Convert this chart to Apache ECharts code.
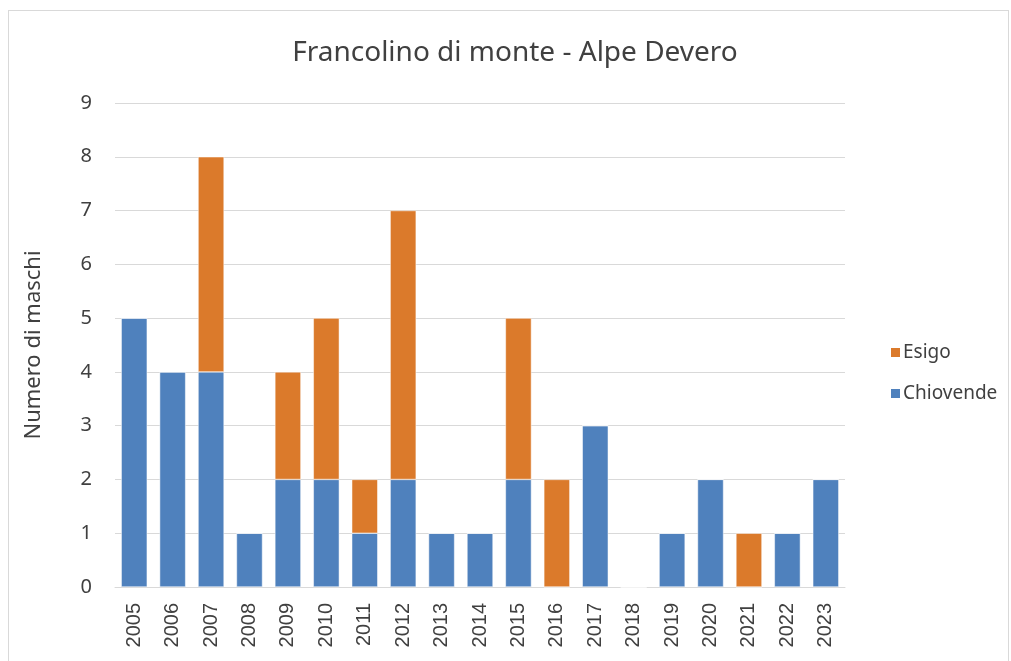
<!DOCTYPE html>
<html>
<head>
<meta charset="utf-8">
<script src="https://cdn.jsdelivr.net/npm/echarts@6/dist/echarts.min.js"></script>
<style>
  html, body { margin: 0; padding: 0; background: #fff; }
  #chart { width: 1011px; height: 661px; }
  #frame { position: absolute; left: 8px; top: 10px; width: 999px; height: 700px;
           border: 1px solid #d9d9d9; pointer-events: none; }
</style>
</head>
<body>
<div id="chart"></div>
<div id="frame"></div>
<script>
const years = ["2005", "2006", "2007", "2008", "2009", "2010", "2011", "2012", "2013", "2014",
  "2015", "2016", "2017", "2018", "2019", "2020", "2021", "2022", "2023"];
const chiovende = [5, 4, 4, 1, 2, 2, 1, 2, 1, 1, 2, 0, 3, 0, 1, 2, 0, 1, 2];
const esigo = [0, 0, 4, 0, 2, 3, 1, 5, 0, 0, 3, 2, 0, 0, 0, 0, 1, 0, 0];

const font = "Noto Sans";
const chart = echarts.init(document.getElementById("chart"));
chart.setOption({
  animation: false,
  title: {
    text: "Francolino di monte - Alpe Devero",
    left: 510,
    textAlign: "center",
    top: 34,
    textStyle: { fontFamily: font, fontSize: 28, fontWeight: "normal", color: "#404040" }
  },
  legend: {
    data: ["Esigo", "Chiovende"],
    orient: "vertical",
    left: 884,
    top: 338,
    itemWidth: 11,
    itemHeight: 11,
    itemGap: 22,
    icon: "rect",
    textStyle: { fontFamily: font, fontSize: 19, color: "#404040", padding: [0, 0, 0, -3] }
  },
  grid: { left: 115, right: 166, top: 103, bottom: 74 },
  xAxis: {
    type: "category",
    data: years,
    axisLine: { lineStyle: { color: "#d9d9d9", width: 1 } },
    axisTick: { show: false },
    axisLabel: { rotate: 90, margin: 16, fontFamily: "Liberation Sans", fontSize: 20, color: "#404040" }
  },
  yAxis: {
    type: "value",
    min: 0,
    max: 9,
    interval: 1,
    name: "Numero di maschi",
    nameLocation: "middle",
    nameGap: 70,
    nameTextStyle: { fontFamily: font, fontSize: 22, color: "#404040" },
    axisLine: { show: false },
    axisTick: { show: false },
    axisLabel: { margin: 23, fontFamily: font, fontSize: 20, color: "#404040" },
    splitLine: { lineStyle: { color: "#d9d9d9", width: 1 } }
  },
  series: [
    {
      name: "Chiovende",
      type: "bar",
      stack: "tot",
      barWidth: 26,
      data: chiovende,
      itemStyle: { color: "#4F81BD", borderColor: "#fff", borderWidth: 0.5 }
    },
    {
      name: "Esigo",
      type: "bar",
      stack: "tot",
      barWidth: 26,
      data: esigo,
      itemStyle: { color: "#DB7A2B", borderColor: "#fff", borderWidth: 0.5 }
    }
  ]
});
</script>
</body>
</html>
